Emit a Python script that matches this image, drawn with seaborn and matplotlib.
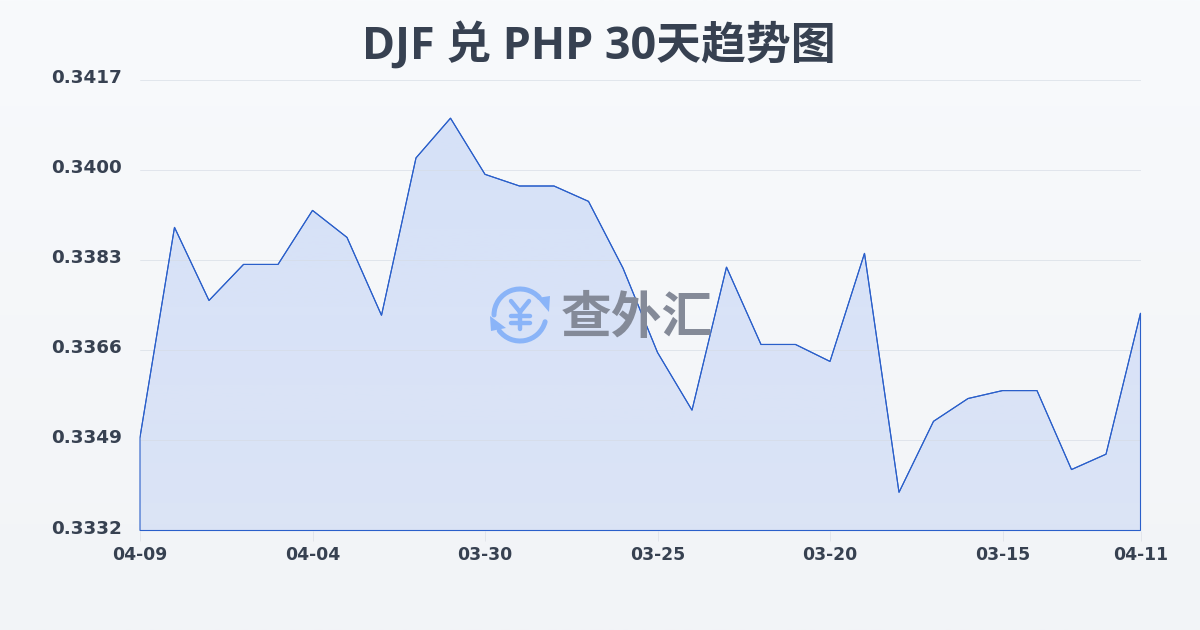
import numpy as np
import pandas as pd
import matplotlib
matplotlib.use('Agg')
import matplotlib.pyplot as plt
import seaborn as sns
from matplotlib.patches import Arc, Polygon
from matplotlib.transforms import ScaledTranslation

title_text = 'DJF 兑 PHP 30天趋势图'
day_index = list(range(30))
rates = [0.33496, 0.33892, 0.33754, 0.33822, 0.33822, 0.33924, 0.33873, 0.33726, 0.34023, 0.34098,
         0.33992, 0.33970, 0.33970, 0.33941, 0.33815, 0.33656, 0.33547, 0.33817, 0.33671, 0.33671,
         0.33639, 0.33843, 0.33392, 0.33526, 0.33569, 0.33584, 0.33584, 0.33435, 0.33464, 0.33730]
x_tick_pos = [0, 5, 10, 15, 20, 25, 29]
x_tick_labels = ['04-09', '04-04', '03-30', '03-25', '03-20', '03-15', '04-11']
y_ticks = [0.3332, 0.3349, 0.3366, 0.3383, 0.3400, 0.3417]

TEXT_COLOR = '#374151'
LINE_COLOR = '#2a5fca'
FILL_COLOR = '#2563eb'
LOGO_BLUE = '#8ab4f8'
CJK_FONTS = ['Noto Sans CJK SC', 'DejaVu Sans']

sns.set_theme(style='white')
plt.rcParams['font.family'] = ['DejaVu Sans']

df = pd.DataFrame({'day': day_index, 'rate': rates})

fig = plt.figure(figsize=(12, 6.3), dpi=100)

# page background, light gradient
bg = fig.add_axes([0, 0, 1, 1], zorder=0)
bg.imshow(np.linspace(0, 1, 256).reshape(-1, 1), aspect='auto', extent=[0, 1, 0, 1],
          cmap=matplotlib.colors.LinearSegmentedColormap.from_list('bg', ['#f8fafc', '#f2f4f7']))
bg.axis('off')

ax = fig.add_axes([140 / 1200, 1 - 530.5 / 630, 1000.5 / 1200, 450.5 / 630], zorder=1)
ax.patch.set_alpha(0)
ax.set_xlim(0, 29)
ax.set_ylim(y_ticks[0], y_ticks[-1])

# area under the line, fades slightly to the bottom
alpha_grad = np.linspace(0.16, 0.115, 256).reshape(-1, 1)
rgba = np.zeros((256, 1, 4))
rgba[..., :3] = matplotlib.colors.to_rgb(FILL_COLOR)
rgba[..., 3] = alpha_grad
img = ax.imshow(rgba, aspect='auto', extent=[0, 29, y_ticks[0], y_ticks[-1]], zorder=1)
outline = Polygon(list(zip(day_index, rates)) + [(29, y_ticks[0]), (0, y_ticks[0])], closed=True,
                  facecolor='none', edgecolor=LINE_COLOR, linewidth=0.8, zorder=4, clip_on=False)
ax.add_patch(outline)
img.set_clip_path(outline)

sns.lineplot(data=df, x='day', y='rate', color=LINE_COLOR, linewidth=0.8, ax=ax, zorder=4)

for v in y_ticks:
    ax.axhline(v, color='#d5dbe4', linewidth=0.6, alpha=0.75, zorder=2)

sns.despine(ax=ax, left=True, bottom=True)
ax.set_xlabel('')
ax.set_ylabel('')
ax.set_xticks(x_tick_pos)
ax.set_xticklabels(x_tick_labels, fontsize=12.4, fontweight='bold', color=TEXT_COLOR)
ax.set_yticks(y_ticks)
ax.set_yticklabels([f'{v:.4f}' for v in y_ticks], fontsize=13.2, fontweight='bold', color=TEXT_COLOR)
ax.tick_params(axis='x', length=7, width=0.6, color='#dfe3e9', pad=4, bottom=True)
ax.tick_params(axis='y', length=0, pad=13)
# y labels sit a little above their grid lines
nudge_up = ScaledTranslation(0, 2 / 100, fig.dpi_scale_trans)
for lab in ax.get_yticklabels():
    lab.set_verticalalignment('center')
    lab.set_transform(lab.get_transform() + nudge_up)

# overlay in pixel coordinates for title and watermark
ov = fig.add_axes([0, 0, 1, 1], zorder=2)
ov.set_xlim(0, 1200)
ov.set_ylim(630, 0)
ov.axis('off')
ov.patch.set_alpha(0)

ov.text(598.5, 46, title_text, ha='center', va='center', fontsize=32.3, fontweight='bold',
        color=TEXT_COLOR, family=['Open Sans', 'Noto Sans CJK SC'])

ov.text(637, 319, '查外汇', ha='center', va='center', fontsize=36.5, fontweight='bold',
        color='#848a98', family=CJK_FONTS, zorder=1)

# logo: two arrows around a yen sign
cx, cy, r = 520, 315, 26
ov.add_patch(Arc((cx, cy), 2 * r, 2 * r, theta1=180, theta2=318, color=LOGO_BLUE, lw=3.6, capstyle='round'))
ov.add_patch(Arc((cx, cy), 2 * r, 2 * r, theta1=15, theta2=143, color=LOGO_BLUE, lw=3.6, capstyle='round'))
ov.add_patch(Polygon([(537, 298), (550, 296), (549, 312)], closed=True, color=LOGO_BLUE, lw=0))
ov.add_patch(Polygon([(490, 316), (506, 328), (491, 331)], closed=True, color=LOGO_BLUE, lw=0))
yen_kw = dict(color=LOGO_BLUE, lw=3.2, solid_capstyle='round', solid_joinstyle='round')
ov.plot([511, 520, 529], [301, 312, 301], **yen_kw)
ov.plot([511, 530], [316, 316], **yen_kw)
ov.plot([511, 530], [323, 323], **yen_kw)
ov.plot([520, 520], [312, 329], **yen_kw)
ov.set_xlim(0, 1200)
ov.set_ylim(630, 0)

fig.savefig('out.png', dpi=100)
plt.close(fig)
